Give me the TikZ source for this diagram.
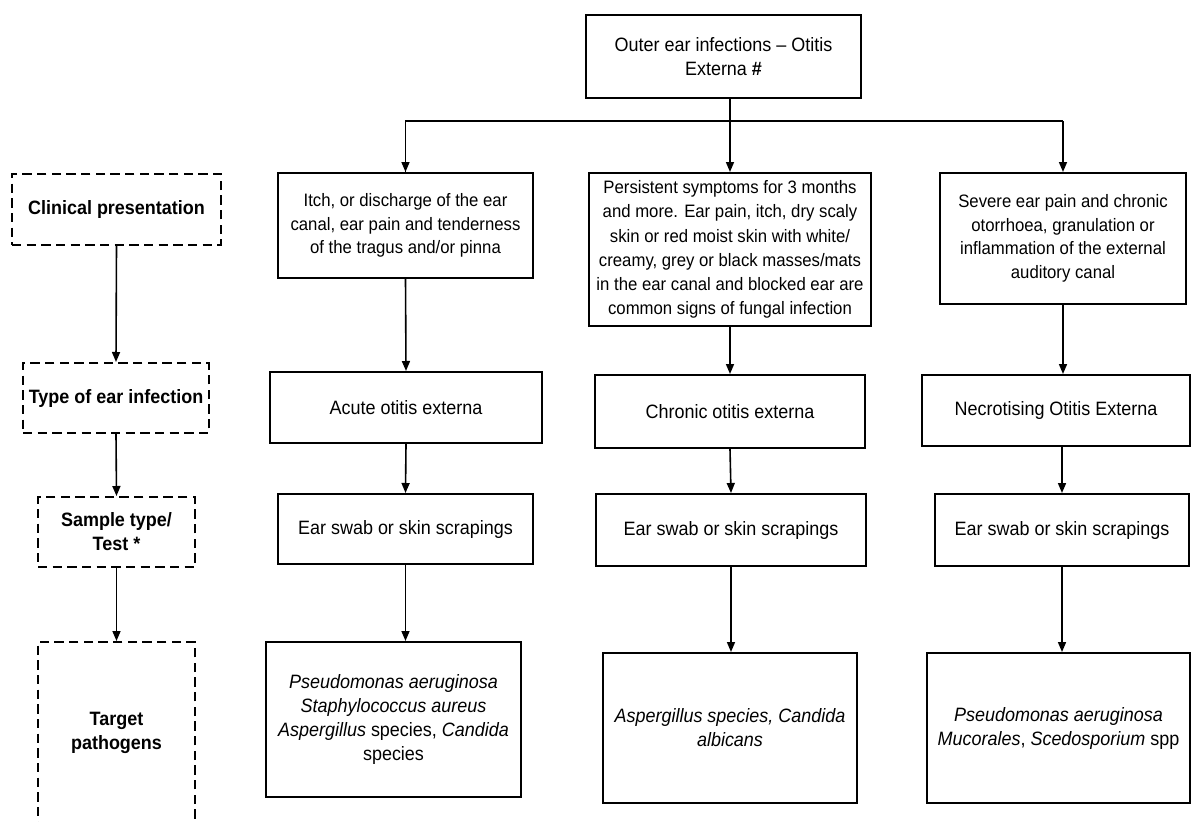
\documentclass[tikz,border=0pt]{standalone}
\usepackage{fontspec}
\setmainfont{Liberation Sans}[FakeStretch=0.93]
\usetikzlibrary{arrows.meta}
\begin{document}
\begin{tikzpicture}[x=0.75pt,y=-0.75pt,
  box/.style={draw=black,line width=1.5pt,align=center,inner sep=0pt,
    font=\fontsize{14.5pt}{18pt}\selectfont},
  clin/.style={box,font=\fontsize{13.5pt}{17.6pt}\selectfont},
  lab/.style={draw=black,line width=1.5pt,dash pattern=on 7pt off 4pt,align=center,inner sep=0pt,
    font=\fontsize{14.5pt}{18pt}\selectfont\bfseries},
  arr/.style={draw=black,line width=1.2pt,-{Triangle[length=7.5pt,width=6pt]}},
  ln/.style={draw=black,line width=1.2pt}]
\useasboundingbox (0,0) rectangle (1192,821);
% top
\node[box,minimum width=206.25pt,minimum height=62.25pt] (top) at (723.5,56.5)
  {Outer ear infections -- Otitis\\Externa \textbf{\#}};
% clinical presentations
\node[clin,minimum width=191.25pt,minimum height=78.75pt] (c1) at (405.5,225.5)
  {Itch, or discharge of the ear\\canal, ear pain and tenderness\\of the tragus and/or pinna};
\node[clin,minimum width=211.5pt,minimum height=114.75pt,font=\fontsize{13.5pt}{18.1pt}\selectfont] (c2) at (730,249.5)
  {Persistent symptoms for 3 months\\and more. Ear pain, itch, dry scaly\\skin or red moist skin with white/\\creamy, grey or black masses/mats\\in the ear canal and blocked ear are\\common signs of fungal infection};
\node[clin,minimum width=184.5pt,minimum height=98.25pt] (c3) at (1063,238.5)
  {Severe ear pain and chronic\\otorrhoea, granulation or\\inflammation of the external\\auditory canal};
% types
\node[box,minimum width=204pt,minimum height=53.25pt] (t1) at (406,407.5) {Acute otitis externa};
\node[box,minimum width=202.5pt,minimum height=54.75pt] (t2) at (730,411.5) {Chronic otitis externa};
\node[box,minimum width=201pt,minimum height=53.25pt] (t3) at (1056,410.5) {Necrotising Otitis Externa};
% samples
\node[box,minimum width=191.25pt,minimum height=52.5pt] (s1) at (405.5,529) {Ear swab or skin scrapings};
\node[box,minimum width=202.5pt,minimum height=54pt] (s2) at (731,530) {Ear swab or skin scrapings};
\node[box,minimum width=190.5pt,minimum height=54pt] (s3) at (1062,530) {Ear swab or skin scrapings};
% pathogens
\node[box,minimum width=191.25pt,minimum height=116.25pt] (p1) at (393.5,719.5)
  {\textit{Pseudomonas aeruginosa}\\\textit{Staphylococcus aureus}\\\textit{Aspergillus} species, \textit{Candida}\\species};
\node[box,minimum width=190.5pt,minimum height=112.5pt] (p2) at (730,728)
  {\textit{Aspergillus species, Candida}\\\textit{albicans}};
\node[box,minimum width=197.25pt,minimum height=112.5pt] (p3) at (1058.5,728)
  {\textit{Pseudomonas aeruginosa}\\\textit{Mucorales}, \textit{Scedosporium} spp};
% left labels
\node[lab,minimum width=156.75pt,minimum height=53.25pt] (L1) at (116.5,209.5) {Clinical presentation};
\node[lab,minimum width=139.5pt,minimum height=52.5pt] (L2) at (116,398) {Type of ear infection};
\node[lab,minimum width=117.75pt,minimum height=52.5pt] (L3) at (116.5,532) {Sample type/\\Test *};
\node[lab,minimum width=117.75pt,minimum height=135.75pt] (L4) at (116.5,732.5) {Target\\pathogens};
% connectors
\coordinate (j) at (730,121);
\draw[ln] (top.south -| j) -- (j);
\draw[ln] (j) -| (c1.north);
\draw[arr] (j -| c1.north) -- (c1.north);
\draw[ln] (j) -- (j -| c3.north);
\draw[arr] (j -| c3.north) -- (c3.north);
\draw[arr] (j) -- (c2.north);
\draw[arr] (c1.south) -- (t1.north);
\draw[arr] (c2.south) -- (t2.north);
\draw[arr] (c3.south) -- (c3.south |- t3.north);
\draw[arr] (t1.south) -- (s1.north);
\draw[arr] (t2.south) -- (s2.north);
\draw[arr] (s3.north |- t3.south) -- (s3.north);
\draw[arr] (s1.south) -- (s1.south |- p1.north);
\draw[arr] (s2.south) -- (s2.south |- p2.north);
\draw[arr] (s3.south) -- (s3.south |- p3.north);
\draw[arr] (L1.south) -- (L2.north);
\draw[arr] (L2.south) -- (L3.north);
\draw[arr] (L3.south) -- (L4.north);
\end{tikzpicture}
\end{document}
